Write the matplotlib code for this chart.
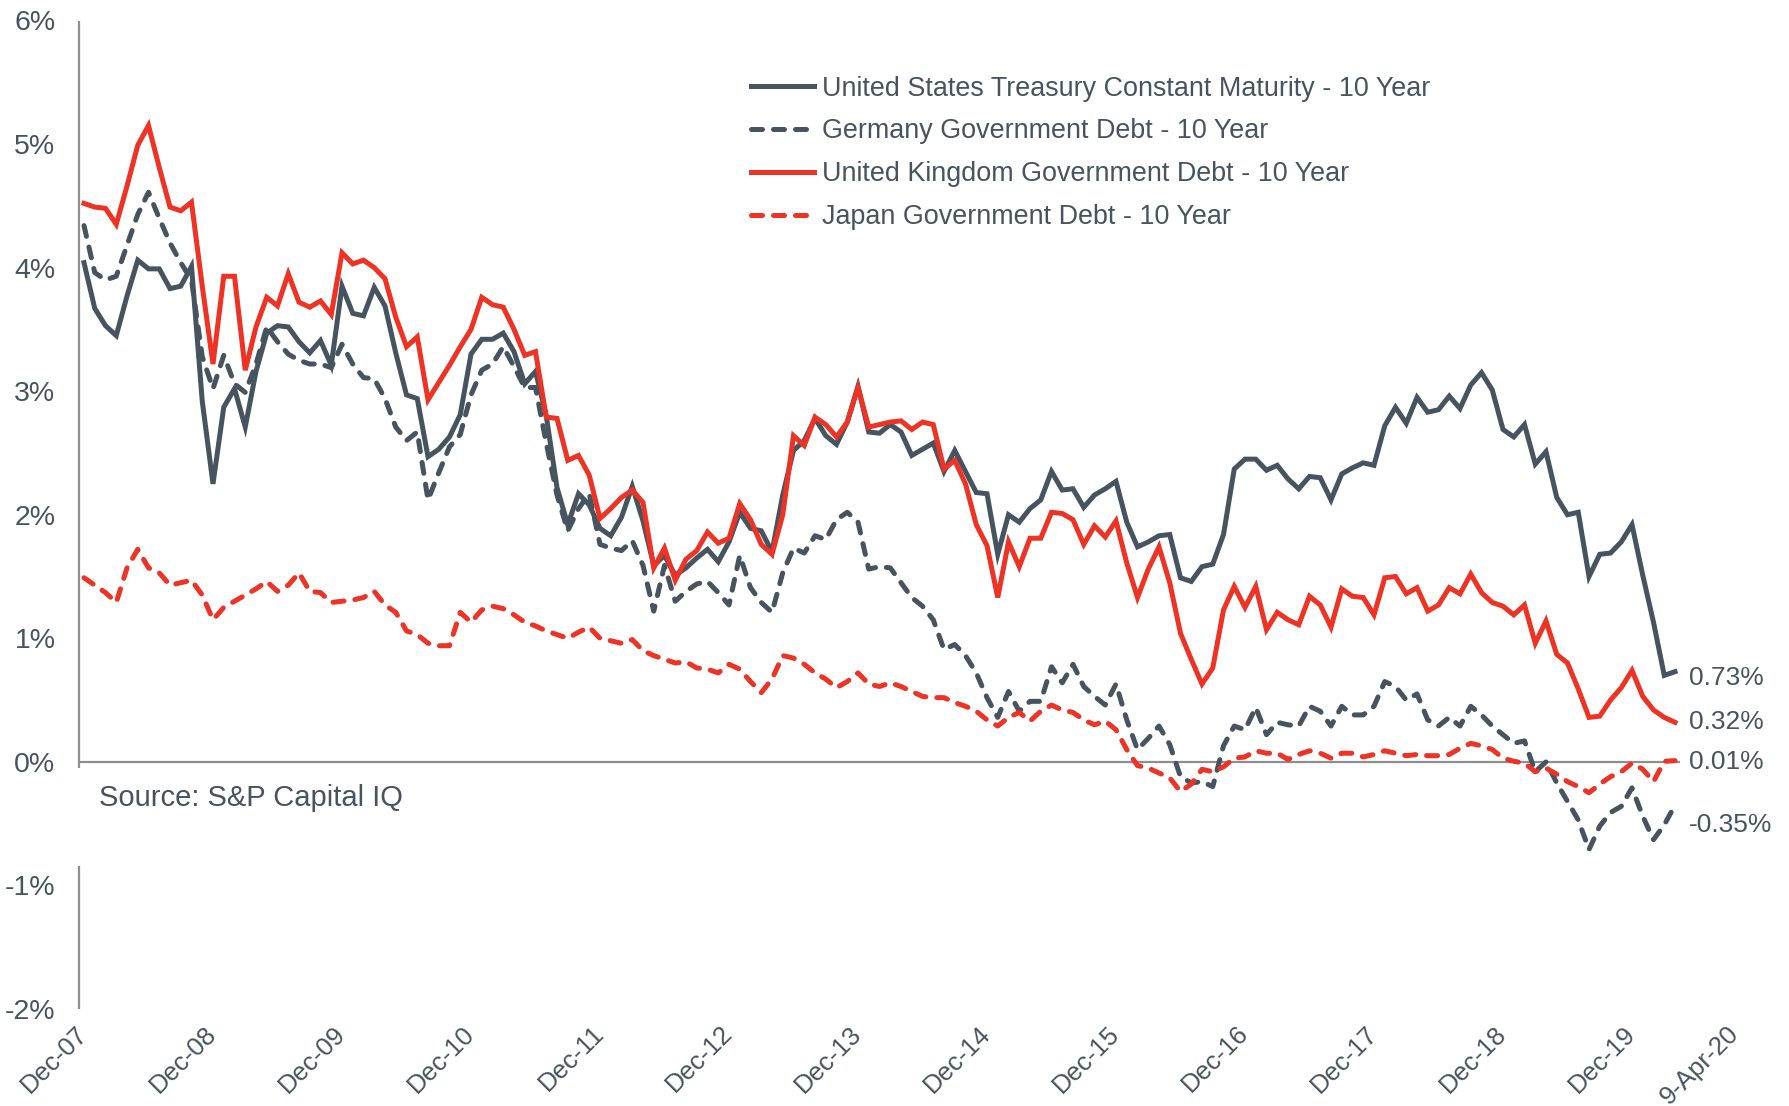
import matplotlib
matplotlib.use("Agg")
import matplotlib.pyplot as plt
import numpy as np
import pandas as pd

plt.rcParams['font.family'] = ['Liberation Sans', 'DejaVu Sans']

# month-end observations Dec-07 .. Mar-20, then 9-Apr-20 (one category each)
dates = list(pd.date_range('2008-01-01', periods=148, freq='MS') - pd.Timedelta(days=1))
dates.append(pd.Timestamp('2020-04-09'))

# yields in %, each row starts at December
us_10y = [
    4.04, 3.67, 3.53, 3.45, 3.77, 4.06, 3.99, 3.99, 3.83, 3.85, 4.01, 2.92,
    2.25, 2.87, 3.02, 2.71, 3.16, 3.47, 3.53, 3.52, 3.40, 3.31, 3.41, 3.21,
    3.85, 3.63, 3.61, 3.84, 3.69, 3.31, 2.97, 2.94, 2.47, 2.53, 2.63, 2.81,
    3.30, 3.42, 3.42, 3.47, 3.32, 3.06, 3.16, 2.80, 2.22, 1.92, 2.17, 2.08,
    1.89, 1.83, 1.98, 2.23, 1.95, 1.59, 1.67, 1.51, 1.57, 1.65, 1.72, 1.62,
    1.78, 2.02, 1.89, 1.87, 1.70, 2.16, 2.52, 2.60, 2.78, 2.64, 2.57, 2.75,
    3.04, 2.67, 2.66, 2.73, 2.67, 2.48, 2.53, 2.58, 2.35, 2.52, 2.35, 2.18,
    2.17, 1.68, 2.00, 1.94, 2.05, 2.12, 2.35, 2.20, 2.21, 2.06, 2.16, 2.21,
    2.27, 1.94, 1.74, 1.78, 1.83, 1.84, 1.49, 1.46, 1.58, 1.60, 1.84, 2.37,
    2.45, 2.45, 2.36, 2.40, 2.29, 2.21, 2.31, 2.30, 2.12, 2.33, 2.38, 2.42,
    2.40, 2.72, 2.87, 2.74, 2.95, 2.83, 2.85, 2.96, 2.86, 3.05, 3.15, 3.01,
    2.69, 2.63, 2.73, 2.41, 2.51, 2.14, 2.00, 2.02, 1.50, 1.68, 1.69, 1.78,
    1.92, 1.51, 1.13, 0.70, 0.73,
]

de_10y = [
    4.34, 3.96, 3.90, 3.93, 4.18, 4.43, 4.61, 4.40, 4.20, 4.04, 3.90, 3.28,
    3.02, 3.29, 3.06, 2.99, 3.22, 3.52, 3.40, 3.30, 3.25, 3.22, 3.22, 3.19,
    3.38, 3.22, 3.11, 3.10, 2.94, 2.71, 2.60, 2.67, 2.12, 2.34, 2.55, 2.65,
    2.97, 3.17, 3.22, 3.36, 3.20, 3.03, 3.03, 2.58, 2.16, 1.87, 2.05, 2.17,
    1.76, 1.73, 1.71, 1.79, 1.59, 1.22, 1.59, 1.30, 1.38, 1.44, 1.46, 1.37,
    1.27, 1.67, 1.41, 1.29, 1.21, 1.53, 1.73, 1.69, 1.83, 1.80, 1.96, 2.02,
    1.94, 1.56, 1.58, 1.57, 1.45, 1.33, 1.26, 1.15, 0.91, 0.95, 0.86, 0.72,
    0.52, 0.36, 0.57, 0.41, 0.49, 0.49, 0.77, 0.64, 0.79, 0.61, 0.53, 0.46,
    0.63, 0.34, 0.10, 0.19, 0.29, 0.14, -0.12, -0.17, -0.16, -0.20, 0.13, 0.29,
    0.26, 0.44, 0.22, 0.32, 0.30, 0.29, 0.45, 0.41, 0.29, 0.45, 0.38, 0.38,
    0.45, 0.65, 0.61, 0.50, 0.55, 0.34, 0.29, 0.36, 0.29, 0.45, 0.38, 0.29,
    0.22, 0.15, 0.17, -0.08, 0.00, -0.17, -0.32, -0.47, -0.71, -0.52, -0.41, -0.36,
    -0.21, -0.44, -0.63, -0.51, -0.35,
]

uk_10y = [
    4.52, 4.49, 4.48, 4.35, 4.66, 4.99, 5.15, 4.81, 4.49, 4.46, 4.53, 3.85,
    3.22, 3.93, 3.93, 3.17, 3.52, 3.76, 3.69, 3.95, 3.72, 3.68, 3.73, 3.62,
    4.12, 4.03, 4.06, 4.00, 3.91, 3.60, 3.36, 3.44, 2.93, 3.07, 3.21, 3.36,
    3.50, 3.76, 3.70, 3.68, 3.50, 3.29, 3.32, 2.79, 2.78, 2.44, 2.48, 2.32,
    1.97, 2.05, 2.14, 2.20, 2.10, 1.57, 1.73, 1.47, 1.64, 1.71, 1.86, 1.77,
    1.81, 2.09, 1.96, 1.76, 1.68, 2.00, 2.64, 2.56, 2.79, 2.73, 2.63, 2.75,
    3.03, 2.71, 2.73, 2.75, 2.76, 2.69, 2.75, 2.73, 2.37, 2.44, 2.25, 1.92,
    1.75, 1.33, 1.78, 1.58, 1.81, 1.81, 2.02, 2.01, 1.96, 1.76, 1.91, 1.82,
    1.95, 1.61, 1.33, 1.56, 1.74, 1.45, 1.04, 0.83, 0.63, 0.76, 1.23, 1.42,
    1.25, 1.42, 1.07, 1.21, 1.15, 1.11, 1.34, 1.27, 1.09, 1.40, 1.34, 1.33,
    1.19, 1.49, 1.50, 1.36, 1.41, 1.22, 1.27, 1.41, 1.36, 1.52, 1.37, 1.29,
    1.26, 1.19, 1.27, 0.96, 1.14, 0.87, 0.80, 0.59, 0.36, 0.37, 0.50, 0.60,
    0.74, 0.53, 0.42, 0.36, 0.32,
]

jp_10y = [
    1.49, 1.43, 1.37, 1.29, 1.57, 1.72, 1.57, 1.53, 1.43, 1.45, 1.47, 1.35,
    1.15, 1.25, 1.30, 1.35, 1.40, 1.46, 1.38, 1.43, 1.53, 1.38, 1.37, 1.29,
    1.30, 1.31, 1.33, 1.38, 1.27, 1.21, 1.06, 1.03, 0.96, 0.94, 0.94, 1.21,
    1.13, 1.23, 1.26, 1.24, 1.19, 1.13, 1.10, 1.06, 1.03, 1.00, 1.05, 1.09,
    1.00, 0.98, 0.96, 0.99, 0.90, 0.86, 0.83, 0.80, 0.81, 0.76, 0.75, 0.72,
    0.79, 0.75, 0.65, 0.56, 0.67, 0.86, 0.84, 0.79, 0.72, 0.67, 0.60, 0.65,
    0.72, 0.63, 0.61, 0.64, 0.61, 0.57, 0.53, 0.52, 0.52, 0.48, 0.45, 0.41,
    0.34, 0.29, 0.36, 0.40, 0.33, 0.41, 0.46, 0.42, 0.40, 0.34, 0.30, 0.33,
    0.26, 0.10, -0.03, -0.05, -0.09, -0.13, -0.24, -0.18, -0.06, -0.08, -0.04, 0.03,
    0.04, 0.09, 0.07, 0.07, 0.02, 0.06, 0.09, 0.07, 0.03, 0.07, 0.07, 0.04,
    0.06, 0.09, 0.07, 0.05, 0.06, 0.05, 0.05, 0.06, 0.11, 0.15, 0.13, 0.10,
    0.03, 0.005, -0.01, -0.08, -0.05, -0.10, -0.16, -0.20, -0.25, -0.18, -0.12, -0.08,
    -0.01, -0.06, -0.16, 0.005, 0.01,
]

series_names = [
    'United States Treasury Constant Maturity - 10 Year',
    'Germany Government Debt - 10 Year',
    'United Kingdom Government Debt - 10 Year',
    'Japan Government Debt - 10 Year',
]
end_labels = ['0.73%', '-0.35%', '0.32%', '0.01%']

# colours
TXT = '#46545F'
GREY = '#46545F'
RED = '#EE3224'
AXIS = '#8E8E8E'

W, H = 1789, 1106
fig = plt.figure(figsize=(W / 100, H / 100), dpi=100)
ax = fig.add_axes([79 / W, 1 - 1009 / H, 1660.5 / W, (1009 - 20.5) / H])

x = np.arange(len(dates))
x_lo, x_end = -0.465, 148.47
ax.set_xlim(x_lo, 154)
ax.set_ylim(-2, 6)

dash = (0, (2.2, 2.2))
styles = [
    dict(color=GREY, linestyle='-'),
    dict(color=GREY, linestyle=dash),
    dict(color=RED, linestyle='-'),
    dict(color=RED, linestyle=dash),
]
data = [us_10y, de_10y, uk_10y, jp_10y]
for vals, name, st in zip(data, series_names, styles):
    ax.plot(x, vals, lw=3.6, label=name, solid_joinstyle='miter',
            dash_capstyle='round', zorder=3, **st)

# zero line and broken y axis
ax.hlines(0, x_lo, x_end, color=AXIS, lw=1.6, zorder=2)
ax.vlines(x_lo, -0.05, 6, color=AXIS, lw=1.6, clip_on=False)
ax.vlines(x_lo, -2, -0.84, color=AXIS, lw=1.6, clip_on=False)
for s in ax.spines.values():
    s.set_visible(False)

yt = np.arange(-2, 7)
ax.set_yticks(yt)
ax.set_yticklabels([f'{v}%' for v in yt])
ax.tick_params(axis='y', length=0, pad=17, labelsize=20.5, labelcolor=TXT)

tick_pos = [i for i, d in enumerate(dates) if d.month == 12] + [153.6]
tick_lab = [dates[i].strftime('Dec-%y') for i in tick_pos[:-1]] + ['9-Apr-20']
ax.set_xticks(tick_pos)
ax.set_xticklabels(tick_lab, rotation=45, ha='right', va='center',
                   rotation_mode='anchor')
ax.tick_params(axis='x', length=0, pad=15, labelsize=18.5, labelcolor=TXT)

# last values at the right end
label_y = [0.68, -0.51, 0.32, 0.0]
for ly, s in zip(label_y, end_labels):
    ax.text(149.3, ly, s, fontsize=19, color=TXT, va='center', clip_on=False)

ax.text(1.37, -0.29, 'Source: S&P Capital IQ', fontsize=21, color=TXT, va='center')

leg = ax.legend(loc='upper left', bbox_to_anchor=(751 / W, 1 - 75.5 / H),
                bbox_transform=fig.transFigure, frameon=False, fontsize=19.4,
                handlelength=2.35, handletextpad=0.28, labelspacing=0.63,
                borderpad=0, borderaxespad=0)
for t in leg.get_texts():
    t.set_color(TXT)

fig.savefig('out.png', dpi=100, facecolor='white')
